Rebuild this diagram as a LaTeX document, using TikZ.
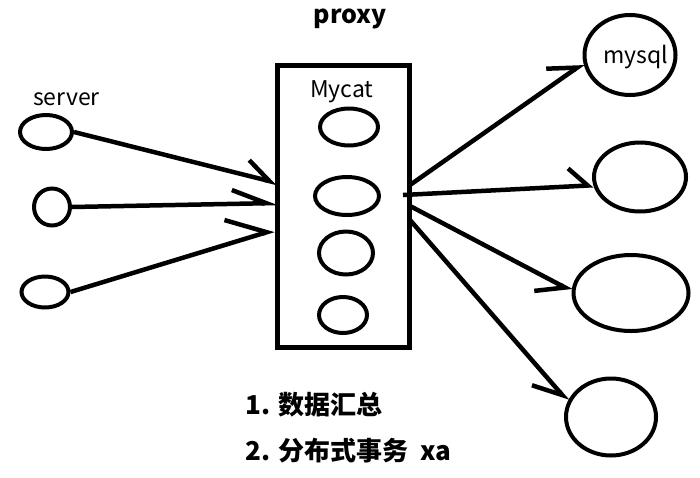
\documentclass[tikz,border=0pt]{standalone}
\usepackage{fontspec}
\setmainfont{Noto Sans CJK SC}
\usetikzlibrary{arrows.meta,shapes.geometric}
\tikzset{
  ell/.style={draw, ellipse, line width=4pt, inner sep=0pt},
  boxst/.style={draw, rectangle, line width=5pt, inner sep=0pt},
  conn/.style={line width=4.5pt},
  lbl/.style={inner sep=0pt, font=\fontsize{23}{26}\selectfont},
  note/.style={inner sep=0pt, anchor=base west, font=\fontsize{26}{30}\selectfont\bfseries},
}
\newcommand{\barbL}[2]{-{Straight Barb[harpoon, angle=#1:#2pt]}}
\newcommand{\barbR}[2]{-{Straight Barb[harpoon, swap, angle=#1:#2pt]}}
\begin{document}
\begin{tikzpicture}[x=1pt, y=-1pt]
\useasboundingbox (0,0) rectangle (700,477);
\fill[white] (0,0) rectangle (700,477);

% title
\node[inner sep=0pt, anchor=base, font=\fontsize{25}{28}\selectfont\bfseries] (proxy) at (350,23) {proxy};

% Mycat box
\node[boxst, minimum width=132pt, minimum height=282pt] (box) at (343.5,206.5) {};
\node[lbl, anchor=base west] (mycat) at (310,97) {Mycat};
\node[ell, minimum width=58pt, minimum height=37pt] (c1) at (349,127) {};
\node[ell, minimum width=64pt, minimum height=38pt] (c2) at (347,196) {};
\node[ell, minimum width=54pt, minimum height=43pt] (c3) at (346,253) {};
\node[ell, minimum width=48pt, minimum height=36pt] (c4) at (343,315) {};

% servers
\node[lbl, anchor=base west] (server) at (33,105) {server};
\node[ell, minimum width=52pt, minimum height=34pt] (s1) at (46,132) {};
\node[ell, minimum width=36pt, minimum height=37pt] (s2) at (52,207) {};
\node[ell, minimum width=47pt, minimum height=31pt] (s3) at (45,292) {};

% mysql nodes
\node[ell, minimum width=91pt, minimum height=80pt] (m1) at (630,55) {};
\node[lbl, anchor=base west] (mysql) at (603,63) {mysql};
\node[ell, minimum width=92pt, minimum height=69pt] (m2) at (640,177) {};
\node[ell, minimum width=115pt, minimum height=76pt] (m3) at (631,293) {};
\node[ell, minimum width=90pt, minimum height=77pt] (m4) at (611,417) {};

% connector points on the box
\coordinate (i1) at (277,183);
\coordinate (i2) at (278,203);
\coordinate (i3) at (274,230);
\coordinate (o1) at (410,185);
\coordinate (o2) at (403,195);
\coordinate (o3) at (410,206);
\coordinate (o4) at (410,220);

% left arrows
\draw[conn, \barbL{64}{29}] (s1.east) -- (i1);
\draw[conn, \barbL{44}{37}] (s2.east) -- (i2);
\draw[conn, \barbL{66}{44}] (s3.east) -- (i3);

% right arrows
\draw[conn, \barbL{66}{31}] (o1) -- (m1.190);
\draw[conn, \barbL{88}{26}] (o2) -- (m2.190);
\draw[conn, \barbR{68}{31}] (o3) -- (m3.178);
\draw[conn, \barbR{62}{32}] (o4) -- (m4.160);

% notes
\node[note] (n1) at (245,414) {1. 数据汇总};
\node[note] (n2) at (245,460) {2. 分布式事务~~xa};
\end{tikzpicture}
\end{document}
